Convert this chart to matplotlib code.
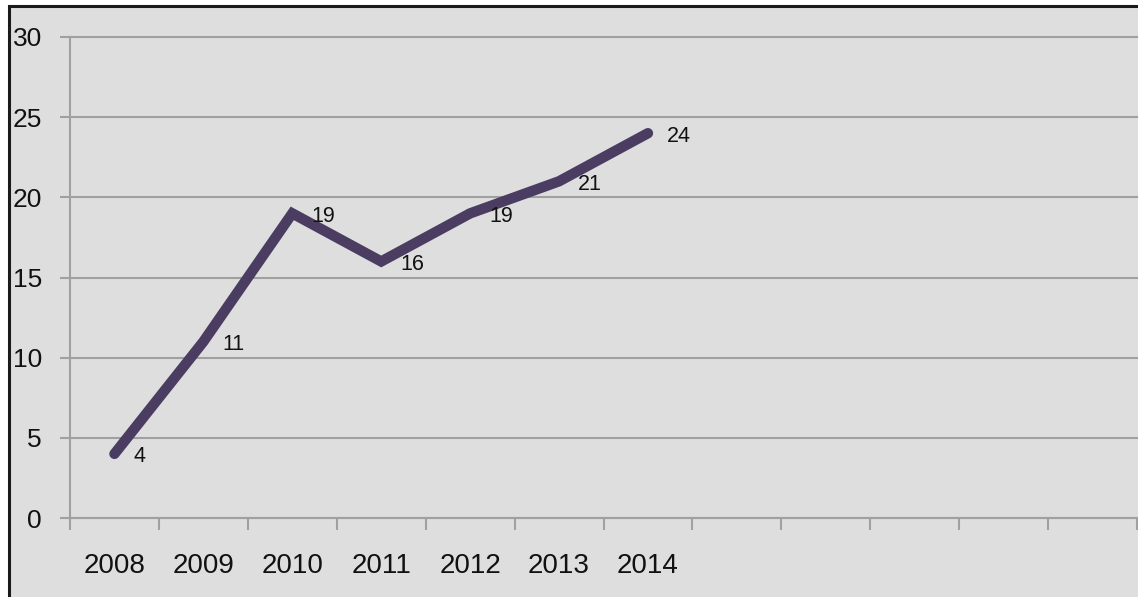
import matplotlib.pyplot as plt
from matplotlib.patches import Rectangle
import numpy as np

# chart data
years = ['2008', '2009', '2010', '2011', '2012', '2013', '2014']
values = [4, 11, 19, 16, 19, 21, 24]
n_slots = 12  # axis keeps room for empty categories
y_ticks = [0, 5, 10, 15, 20, 25, 30]

W, H = 1138, 597
FONT = 'Liberation Sans'
fig = plt.figure(figsize=(W / 100, H / 100), dpi=100)
fig.patch.set_facecolor('white')

# gray chart area with black frame (left/top visible)
frame = Rectangle((9 / W, -0.05), 1.1, 1 - 6 / H + 0.05, transform=fig.transFigure,
                  facecolor='#dedede', edgecolor='#1a1a1a', linewidth=2.2, zorder=-5)
fig.patches.append(frame)

ax = fig.add_axes([70 / W, 1 - 518 / H, (1137 - 70) / W, (518 - 37) / H])
ax.set_facecolor('none')

x = np.arange(len(years))
ax.plot(x, values, color='#4b3c62', linewidth=7.5, solid_capstyle='round',
        solid_joinstyle='miter', zorder=3)

for xi, v in zip(x, values):
    ax.annotate(str(v), (xi, v), xytext=(19, -3), textcoords='offset pixels',
                ha='left', va='center', fontsize=15.5, family=FONT,
                color='#111111', zorder=4)

ax.set_xlim(-0.5, n_slots - 0.5)
ax.set_ylim(0, 30)

ax.set_yticks(y_ticks)
ax.set_yticklabels([str(t) for t in y_ticks], family=FONT, fontsize=19, color='#111111')
ax.tick_params(axis='y', length=7.2, width=1.5, color='#a0a0a0', pad=13)
ax.grid(axis='y', color='#a0a0a0', linewidth=1.5)
for gl in ax.get_ygridlines():
    gl.set_clip_on(False)
ax.set_axisbelow(True)

# category boundaries get tick marks, labels go in the middle
ax.set_xticks(np.arange(n_slots + 1) - 0.5)
ax.set_xticklabels([])
ax.tick_params(axis='x', which='major', length=8.6, width=1.5, color='#a0a0a0')
ax.set_xticks(x, minor=True)
ax.set_xticklabels(years, minor=True, family=FONT, fontsize=20, color='#111111')
ax.tick_params(axis='x', which='minor', length=0, pad=25)

for side in ['top', 'right']:
    ax.spines[side].set_visible(False)
ax.spines['left'].set_color('#a0a0a0')
ax.spines['left'].set_linewidth(1.5)
ax.spines['bottom'].set_color('#a0a0a0')
ax.spines['bottom'].set_linewidth(1.5)

fig.savefig('out.png', dpi=100)
